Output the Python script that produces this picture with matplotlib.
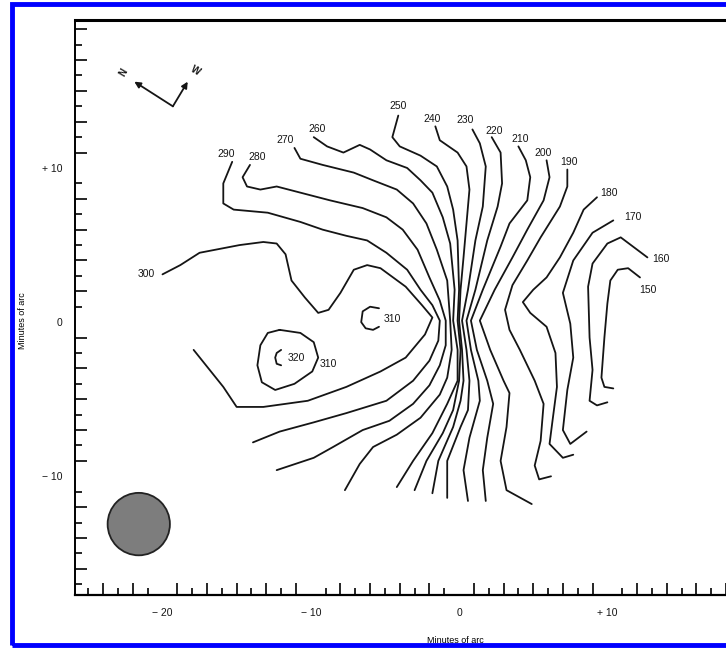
"""
HI isovelocity map (km/s) redrawn from a scanned figure.
Contours traced by eye, offsets in minutes of arc from the centre.
"""
import numpy as np
import matplotlib
matplotlib.use("Agg")
import matplotlib.pyplot as plt
from matplotlib.patches import Ellipse, Rectangle

# traced isovelocity contours, (x, y) in arcmin
c150 = [(12.2, 2.9), (11.4, 3.5), (10.7, 3.4), (10.2, 2.7), (10.0, 1.2), (9.8, -1.0),
        (9.6, -3.6), (9.8, -4.2), (10.4, -4.3)]
c160 = [(12.7, 4.2), (10.9, 5.5), (10.0, 5.1), (9.0, 3.8), (8.7, 2.3), (8.8, -1.0),
        (9.0, -3.1), (8.8, -5.1), (9.3, -5.4), (10.0, -5.2)]
c170 = [(10.4, 6.6), (9.0, 5.8), (7.7, 4.0), (7.0, 1.9), (7.5, -0.1), (7.7, -2.3),
        (7.3, -4.4), (7.0, -7.0), (7.5, -7.9), (8.6, -7.1)]
c180 = [(9.3, 8.1), (8.4, 7.3), (7.7, 5.8), (6.8, 4.2), (5.9, 2.9), (5.0, 2.1), (4.3, 1.3),
        (4.8, 0.6), (5.9, -0.3), (6.5, -2.0), (6.6, -4.2), (6.3, -6.4), (6.1, -7.9),
        (7.0, -8.8), (7.7, -8.6)]
c190 = [(7.3, 9.9), (7.3, 8.8), (6.8, 7.5), (5.5, 5.5), (4.6, 4.0), (3.6, 2.4), (3.1, 0.8),
        (3.4, -0.5), (4.1, -1.8), (5.1, -3.8), (5.7, -5.3), (5.5, -7.7), (5.1, -9.3),
        (5.4, -10.2), (6.2, -10.0)]
c200 = [(5.9, 10.5), (6.1, 9.4), (5.7, 7.9), (4.6, 6.0), (3.6, 4.2), (2.4, 2.1), (1.4, 0.1),
        (2.1, -1.8), (3.0, -3.8), (3.4, -4.6), (3.2, -6.8), (2.8, -9.0), (3.2, -10.9),
        (4.9, -11.8)]
c210 = [(4.0, 11.4), (4.5, 10.5), (4.8, 9.4), (4.6, 7.9), (3.4, 6.4), (2.8, 4.9), (1.6, 2.1),
        (0.8, 0.1), (1.2, -1.8), (1.9, -3.8), (2.3, -5.3), (1.9, -7.5), (1.6, -9.6),
        (1.8, -11.6)]
c220 = [(2.2, 12.0), (2.8, 11.0), (2.9, 9.0), (2.6, 7.5), (1.9, 5.3), (1.1, 2.1), (0.5, 0.1),
        (0.8, -1.8), (1.3, -3.8), (1.4, -5.1), (0.7, -7.5), (0.3, -9.6), (0.6, -11.6)]
c230 = [(0.9, 12.5), (1.4, 11.6), (1.8, 10.1), (1.6, 7.5), (1.1, 5.3), (0.6, 2.1), (0.2, 0.1),
        (0.5, -1.8), (0.7, -3.8), (0.6, -5.7), (0.1, -6.8), (-0.8, -9.0), (-0.8, -11.4)]
c240 = [(-1.6, 12.7), (-1.3, 11.8), (-0.1, 11.0), (0.5, 10.1), (0.7, 8.6), (0.5, 6.4),
        (0.3, 4.2), (0.1, 2.1), (0.0, 0.1), (0.2, -1.8), (0.3, -3.8), (0.1, -5.1),
        (-0.4, -6.8), (-1.4, -9.0), (-1.8, -11.1)]
c250 = [(-4.1, 13.4), (-4.5, 12.0), (-4.0, 11.4), (-2.6, 10.8), (-1.5, 10.1), (-0.8, 8.8),
        (-0.4, 7.3), (-0.1, 5.3), (0.0, 2.1), (-0.1, 0.1), (0.1, -1.8), (0.0, -3.8),
        (-0.4, -5.7), (-1.1, -7.2), (-2.2, -9.0), (-3.0, -10.9)]
c260 = [(-9.8, 12.0), (-8.9, 11.4), (-7.8, 11.0), (-6.7, 11.5), (-6.0, 11.2), (-4.9, 10.5),
        (-3.5, 10.0), (-2.6, 9.2), (-1.8, 8.4), (-1.1, 6.8), (-0.6, 5.1), (-0.3, 2.1),
        (-0.4, 0.1), (-0.1, -1.8), (-0.1, -3.8), (-0.8, -5.3), (-1.8, -7.2), (-3.1, -9.0),
        (-4.2, -10.7)]
c270 = [(-11.1, 11.3), (-10.7, 10.6), (-9.2, 10.2), (-7.1, 9.7), (-5.8, 9.2), (-4.2, 8.6),
        (-3.1, 7.7), (-2.2, 6.4), (-1.5, 4.7), (-0.8, 2.7), (-0.6, 0.1), (-0.5, -1.8),
        (-0.8, -3.6), (-1.3, -4.7), (-2.6, -6.2), (-4.2, -7.3), (-5.8, -8.1), (-6.7, -9.2),
        (-7.7, -10.9)]
c280 = [(-14.1, 10.2), (-14.6, 9.4), (-14.3, 8.8), (-13.4, 8.6), (-12.3, 8.8), (-10.7, 8.4),
        (-8.7, 7.9), (-6.5, 7.4), (-4.9, 6.8), (-3.8, 6.0), (-2.8, 4.7), (-2.0, 2.9),
        (-1.3, 1.4), (-0.9, 0.1), (-0.9, -1.5), (-1.3, -2.8), (-2.0, -4.1), (-3.1, -5.3),
        (-4.7, -6.4), (-6.5, -7.0), (-8.5, -8.1), (-9.8, -8.8), (-12.3, -9.6)]
c290 = [(-15.3, 10.4), (-15.9, 9.0), (-15.9, 7.7), (-15.2, 7.3), (-12.9, 7.1), (-10.7, 6.5),
        (-9.2, 6.0), (-7.6, 5.6), (-6.2, 5.3), (-4.9, 4.5), (-3.5, 3.4), (-2.6, 2.1),
        (-1.8, 1.1), (-1.3, 0.1), (-1.4, -1.2), (-2.0, -2.5), (-3.1, -3.8), (-4.9, -5.1),
        (-7.6, -5.9), (-9.8, -6.5), (-12.1, -7.1), (-13.9, -7.8)]
c300 = [(-20.0, 3.1), (-18.8, 3.7), (-17.5, 4.5), (-14.8, 5.0), (-13.2, 5.2), (-12.3, 5.1),
        (-11.7, 4.4), (-11.3, 2.7), (-10.4, 1.6), (-9.5, 0.6), (-8.8, 0.8), (-8.0, 1.9),
        (-7.1, 3.4), (-6.2, 3.7), (-5.3, 3.5), (-3.6, 2.3), (-2.5, 1.1), (-1.8, 0.3),
        (-2.3, -0.8), (-3.6, -2.3), (-5.3, -3.2), (-7.6, -4.2), (-10.2, -5.1), (-13.2, -5.5),
        (-15.0, -5.5), (-15.9, -4.2), (-17.9, -1.8)]
c310a = [(-12.1, -0.5), (-10.7, -0.7), (-9.8, -1.3), (-9.5, -2.3), (-9.9, -3.2), (-11.1, -4.0),
         (-12.4, -4.4), (-13.3, -3.9), (-13.6, -2.8), (-13.4, -1.5), (-12.9, -0.7), (-12.1, -0.5)]
c310b = [(-5.4, 0.9), (-6.0, 1.0), (-6.5, 0.7), (-6.6, 0.0), (-6.3, -0.4), (-5.8, -0.5),
         (-5.4, -0.3)]
c320 = [(-12.0, -1.8), (-12.3, -2.0), (-12.4, -2.3), (-12.3, -2.7), (-12.0, -2.8)]
contours = [c150, c160, c170, c180, c190, c200, c210, c220, c230, c240, c250,
            c260, c270, c280, c290, c300, c310a, c310b, c320]

label_text = ["250", "240", "230", "220", "210", "200", "190", "180", "170", "160", "150",
              "260", "270", "280", "290", "300", "310", "320", "310"]
label_x = [-4.1, -1.8, 0.4, 2.4, 4.1, 5.7, 7.4, 10.1, 11.7, 13.6, 12.7,
           -9.6, -11.7, -13.6, -15.7, -21.1, -4.5, -11.0, -8.8]
label_y = [14.0, 13.2, 13.1, 12.4, 11.9, 11.0, 10.4, 8.4, 6.8, 4.1, 2.1,
           12.5, 11.8, 10.7, 10.9, 3.1, 0.2, -2.3, -2.7]

beam_xy, beam_w, beam_h = (-21.6, -13.1), 4.2, 4.05
compass_origin = (-19.3, 14.0)
compass_tips = [(-21.9, 15.6), (-18.3, 15.6)]
compass_text = ["N", "W"]
compass_text_xy = [(-22.6, 16.2), (-17.8, 16.3)]
compass_rot = [60, -30]

xtick_pos = [-20, -10, 0, 10]
xtick_lab = ["\u2212 20", "\u2212 10", "0", "+ 10"]
ytick_pos = [-10, 0, 10]
ytick_lab = ["\u2212 10", "0", "+ 10"]

plt.rcParams["font.family"] = ["Liberation Sans", "DejaVu Sans"]
fig = plt.figure(figsize=(7.26, 6.48), dpi=100)
ax = fig.add_axes([75 / 726, 1 - 595 / 648, 651 / 726, 575 / 648])
ax.set_xlim(-25.9, 18.0)
ax.set_ylim(-17.7, 19.6)

for c in contours:
    a = np.array(c)
    ax.plot(a[:, 0], a[:, 1], color="#151515", lw=1.3, solid_joinstyle="round",
            solid_capstyle="round")

for t, x, y in zip(label_text, label_x, label_y):
    ax.text(x, y, t, fontsize=7.5, ha="center", va="center", color="#151515")

ax.add_patch(Ellipse(beam_xy, beam_w, beam_h, facecolor="#7d7d7d", edgecolor="#222222", lw=1.3))

for tip, t, txy, rot in zip(compass_tips, compass_text, compass_text_xy, compass_rot):
    ax.annotate("", xy=tip, xytext=compass_origin,
                arrowprops=dict(arrowstyle="-|>", color="#151515", lw=1.3, mutation_scale=9,
                                shrinkA=0, shrinkB=0))
    ax.text(txy[0], txy[1], t, fontsize=7, rotation=rot, ha="center", va="center",
            fontweight="bold", color="#151515")

ax.set_xticks(xtick_pos, xtick_lab)
ax.set_yticks(ytick_pos, ytick_lab)
ax.set_xticks(np.arange(-25, 19, 1), minor=True)
ax.set_yticks(np.arange(-17, 20, 1), minor=True)
ax.tick_params(which="both", direction="in", top=False, right=False, labelsize=7.5,
               colors="#151515", width=1.3)
ax.tick_params(which="major", length=0, pad=9)
# long ticks at even arcmin, short at odd
for i, t in enumerate(ax.xaxis.get_minor_ticks()):
    t.tick1line.set_markersize(8.5 if (-25 + i) % 2 == 0 else 5)
for i, t in enumerate(ax.yaxis.get_minor_ticks()):
    t.tick1line.set_markersize(8.5 if (-17 + i) % 2 == 0 else 5)

ax.set_xlabel("Minutes of arc", fontsize=6.5)
ax.set_ylabel("Minutes of arc", fontsize=6.5)
ax.xaxis.set_label_coords(0.585, -0.071)
ax.yaxis.set_label_coords(-0.074, 0.478)
ax.spines["right"].set_visible(False)
ax.spines["top"].set_linewidth(2.2)
ax.spines["left"].set_linewidth(1.4)
ax.spines["bottom"].set_linewidth(1.6)

# blue frame round the scan (right edge falls outside the crop)
fig.add_artist(Rectangle((12 / 726, 3 / 648), 730 / 726, 641 / 648, transform=fig.transFigure,
                         fill=False, edgecolor="#0000ff", lw=3.5))

fig.savefig("out.png", dpi=100)
